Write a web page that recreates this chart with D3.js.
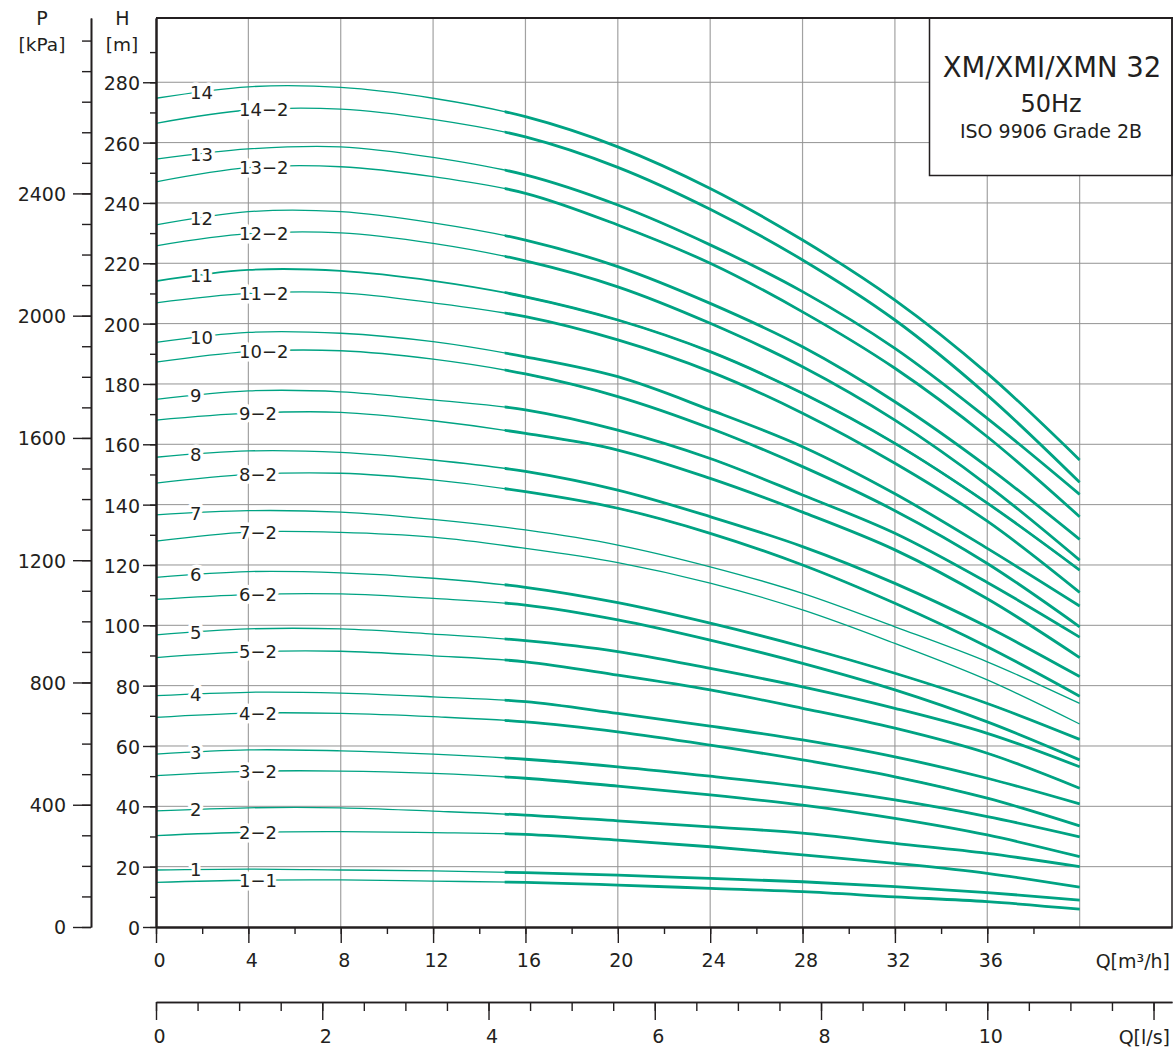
<!DOCTYPE html>
<html>
<head>
<meta charset="utf-8">
<script src="https://cdn.jsdelivr.net/npm/d3@7"></script>
<style>
  body { margin: 0; background: #fff; }
  svg text { font-family: "DejaVu Sans", sans-serif; fill: #231f20; }
</style>
</head>
<body>
<script>
var width = 1173;
var height = 1050;

// flow values the curves were read at [m3/h]
var flowQ = [0, 4, 8, 12, 16, 20, 24, 28, 32, 36, 40];

// curve labels, top to bottom
var curveNames = ["14", "14−2", "13", "13−2", "12", "12−2", "11", "11−2", "10", "10−2",
  "9", "9−2", "8", "8−2", "7", "7−2", "6", "6−2", "5", "5−2", "4", "4−2",
  "3", "3−2", "2", "2−2", "1", "1−1"];

// head H [m] of each curve at flowQ
var h14  = [274.7, 278.5, 278.3, 274.7, 268.6, 258.6, 244.8, 227.7, 207.8, 183.5, 154.8];
var h14b = [266.4, 270.8, 271.1, 267.7, 261.9, 251.8, 237.9, 221.1, 201.2, 176.3, 147.4];
var h13  = [254.5, 257.9, 258.6, 255.1, 249.3, 239.3, 226.1, 210.6, 191.8, 168.6, 143.4];
var h13b = [247.0, 251.7, 252.0, 248.7, 243.2, 232.7, 220.0, 203.9, 185.2, 162.5, 136.0];
var h12  = [232.7, 237.1, 237.1, 233.4, 227.7, 218.9, 206.7, 192.3, 174.1, 152.6, 128.5];
var h12b = [225.8, 229.8, 230.1, 226.6, 220.8, 212.2, 200.1, 185.7, 168.0, 146.5, 121.6];
var h11  = [214.1, 217.8, 217.5, 214.2, 208.9, 201.2, 190.7, 176.9, 160.3, 140.5, 118.3];
var h11b = [206.9, 210.0, 210.2, 206.9, 202.3, 194.6, 184.1, 170.3, 153.7, 134.5, 110.9];
var h10  = [193.8, 197.1, 196.8, 194.0, 189.0, 182.4, 171.4, 159.2, 143.6, 125.5, 106.4];
var h10b = [187.2, 190.7, 191.0, 188.2, 183.3, 175.8, 165.3, 152.6, 138.0, 120.5, 99.5];
var h9   = [174.9, 177.7, 177.4, 174.7, 171.4, 164.7, 155.3, 143.2, 130.5, 114.2, 96.1];
var h9b  = [168.0, 170.3, 170.6, 167.8, 163.6, 158.1, 148.7, 137.5, 125.0, 108.8, 89.3];
var h8   = [155.7, 157.8, 157.3, 154.8, 151.0, 144.8, 136.0, 126.1, 113.9, 99.5, 83.0];
var h8b  = [147.1, 150.0, 150.4, 148.2, 144.3, 138.8, 130.5, 120.0, 107.3, 92.9, 76.5];
var h7   = [136.6, 138.0, 137.5, 135.1, 131.6, 126.6, 119.4, 110.6, 99.5, 87.9, 74.1];
var h7b  = [127.9, 130.9, 130.8, 129.2, 125.5, 120.8, 114.0, 105.1, 94.0, 81.9, 67.3];
var h6   = [115.9, 117.8, 117.4, 115.6, 112.6, 107.5, 100.7, 92.9, 84.1, 74.1, 62.2];
var h6b  = [108.6, 110.2, 110.4, 108.9, 106.7, 101.8, 95.1, 87.4, 78.6, 68.0, 55.4];
var h5   = [96.8, 98.8, 98.8, 97.1, 94.9, 91.3, 85.7, 79.6, 72.5, 64.2, 53.1];
var h5b  = [89.3, 91.2, 91.4, 89.9, 87.9, 83.5, 78.6, 72.5, 65.9, 57.6, 46.0];
var h4   = [76.7, 77.8, 77.5, 76.3, 74.7, 70.8, 66.6, 62.0, 56.4, 49.3, 40.8];
var h4b  = [69.5, 70.9, 70.8, 69.7, 68.0, 64.7, 60.3, 55.4, 49.8, 42.7, 33.5];
var h3   = [57.3, 58.7, 58.4, 57.3, 55.6, 53.1, 50.0, 46.5, 42.1, 36.6, 29.9];
var h3b  = [50.2, 51.6, 51.7, 50.9, 49.3, 46.7, 43.8, 40.4, 36.0, 30.5, 23.3];
var h2   = [38.5, 39.5, 39.5, 38.4, 37.1, 35.2, 33.2, 31.1, 27.7, 24.4, 20.0];
var h2b  = [30.3, 31.4, 31.6, 31.3, 30.7, 28.8, 26.6, 23.9, 21.1, 17.8, 13.2];
var h1   = [18.9, 19.2, 18.9, 18.6, 18.0, 17.2, 16.1, 15.0, 13.4, 11.4, 8.9];
var h1b  = [14.8, 15.5, 15.6, 15.2, 14.8, 13.9, 12.8, 11.7, 10.0, 8.4, 5.9];

var curveHeads = [h14, h14b, h13, h13b, h12, h12b, h11, h11b, h10, h10b, h9, h9b,
  h8, h8b, h7, h7b, h6, h6b, h5, h5b, h4, h4b, h3, h3b, h2, h2b, h1, h1b];

// curves drawn thin over the whole range
var thinCurves = ["7", "7−2"];

// axis ticks
var qTicks = [0, 4, 8, 12, 16, 20, 24, 28, 32, 36];
var qMinorTicks = d3.range(0, 40, 2);
var lsTicks = [0, 2, 4, 6, 8, 10, 12];
var lsMinorTicks = d3.range(0, 12.5, 0.5);
var hTicks = d3.range(0, 281, 20);
var hMinorTicks = d3.range(0, 300, 10);
var pTicks = [0, 400, 800, 1200, 1600, 2000, 2400];
var pMinorTicks = d3.range(0, 3000, 100);

var kPaPerMetre = 9.87;
var thickFromQ = 15.1;
var green = "#00a383";
var ink = "#231f20";

var svg = d3.select("body").append("svg")
  .attr("width", width)
  .attr("height", height);

var plotLeft = 156, plotRight = 1172, plotTop = 18, plotBottom = 927;
var hMax = 301.3;

var x = d3.scaleLinear().domain([0, 44]).range([plotLeft, plotRight]);
var y = d3.scaleLinear().domain([0, hMax]).range([plotBottom, plotTop]);
var yP = d3.scaleLinear().domain([0, hMax * kPaPerMetre]).range([plotBottom, plotTop]);
var xLs = d3.scaleLinear().domain([0, 44 / 3.6]).range([plotLeft, plotRight]);

// grid
var grid = svg.append("g").attr("stroke", "#a2a2a2").attr("stroke-width", 1.2);
grid.selectAll("line.v")
  .data(d3.range(4, 41, 4))
  .join("line")
  .attr("x1", d => x(d)).attr("x2", d => x(d))
  .attr("y1", plotTop).attr("y2", plotBottom);
grid.selectAll("line.h")
  .data(d3.range(20, 281, 20))
  .join("line")
  .attr("x1", plotLeft).attr("x2", plotRight)
  .attr("y1", d => y(d)).attr("y2", d => y(d))
  .attr("stroke", "#939393").attr("stroke-width", 1);

// curves
var curves = curveNames.map(function (name, i) {
  return { name: name, points: flowQ.map((q, j) => [q, curveHeads[i][j]]) };
});

svg.append("clipPath").attr("id", "thickPart")
  .append("rect")
  .attr("x", x(thickFromQ)).attr("y", 0)
  .attr("width", plotRight - x(thickFromQ)).attr("height", height);

var line = d3.line()
  .x(d => x(d[0]))
  .y(d => y(d[1]))
  .curve(d3.curveCatmullRom.alpha(0.5));

var curveGroup = svg.append("g").attr("fill", "none").attr("stroke", green);
curveGroup.selectAll("path.thin")
  .data(curves)
  .join("path")
  .attr("d", d => line(d.points))
  .attr("stroke-width", d => d.name === "11" ? 1.8 : 1.3);
curveGroup.selectAll("path.thick")
  .data(curves.filter(d => thinCurves.indexOf(d.name) < 0))
  .join("path")
  .attr("d", d => line(d.points))
  .attr("stroke-width", 2.8)
  .attr("clip-path", "url(#thickPart)");

// curve labels with a white knock-out halo
var labelGroup = svg.append("g");
curves.forEach(function (c) {
  var sub = c.name.indexOf("−") >= 0;
  var t = labelGroup.append("text")
    .attr("x", sub ? 239 : 190)
    .attr("font-size", 18)
    .attr("stroke", "#fff")
    .attr("stroke-width", 7)
    .attr("stroke-linejoin", "round")
    .style("paint-order", "stroke")
    .text(c.name);
  var w = t.node().getComputedTextLength();
  var qc = x.invert((sub ? 239 : 190) + w / 2);
  var hAt = d3.scaleLinear().domain(flowQ).range(c.points.map(p => p[1]));
  t.attr("y", y(hAt(qc)) + 6.5);
});

// title box
var box = svg.append("g");
box.append("rect")
  .attr("x", 929.5).attr("y", plotTop)
  .attr("width", plotRight - 929.5).attr("height", 157.5)
  .attr("fill", "#fff").attr("stroke", ink).attr("stroke-width", 1.5);
box.append("text").attr("x", 1052).attr("y", 77).attr("text-anchor", "middle")
  .attr("font-size", 27.5).text("XM/XMI/XMN 32");
box.append("text").attr("x", 1051).attr("y", 112).attr("text-anchor", "middle")
  .attr("font-size", 24).text("50Hz");
box.append("text").attr("x", 1051).attr("y", 138).attr("text-anchor", "middle")
  .attr("font-size", 19).text("ISO 9906 Grade 2B");

// frame: top and right
svg.append("line").attr("x1", plotLeft).attr("x2", plotRight + 1)
  .attr("y1", plotTop).attr("y2", plotTop)
  .attr("stroke", ink).attr("stroke-width", 2);
svg.append("line").attr("x1", plotRight).attr("x2", plotRight)
  .attr("y1", plotTop).attr("y2", plotBottom)
  .attr("stroke", ink).attr("stroke-width", 1.5);

function styleAxis(g, lineWidth) {
  g.attr("font-size", 19).attr("font-family", "DejaVu Sans").attr("color", ink);
  g.select(".domain").attr("stroke-width", lineWidth);
  g.selectAll(".tick line").attr("stroke-width", 1.4);
}

// H axis
svg.append("g")
  .attr("transform", "translate(" + plotLeft + ",0)")
  .call(d3.axisLeft(y).tickValues(hMinorTicks).tickSize(6).tickSizeOuter(0).tickFormat(""))
  .call(styleAxis, 2);
svg.append("g")
  .attr("transform", "translate(" + plotLeft + ",0)")
  .call(d3.axisLeft(y).tickValues(hTicks).tickSize(13).tickPadding(3).tickSizeOuter(0))
  .call(styleAxis, 2)
  .selectAll(".tick text").attr("dy", "0.4em");

// P axis
svg.append("g")
  .attr("transform", "translate(91,0)")
  .call(d3.axisLeft(yP).tickValues(pMinorTicks).tickSize(9).tickSizeOuter(0).tickFormat(""))
  .call(styleAxis, 1.6);
svg.append("g")
  .attr("transform", "translate(91,0)")
  .call(d3.axisLeft(yP).tickValues(pTicks).tickSize(18).tickPadding(7).tickSizeOuter(0)
    .tickFormat(d3.format("d")))
  .call(styleAxis, 1.6)
  .selectAll(".tick text").attr("dy", "0.36em");

// Q [m3/h] axis
svg.append("g")
  .attr("transform", "translate(0," + plotBottom + ")")
  .call(d3.axisBottom(x).tickValues(qMinorTicks).tickSize(7).tickSizeOuter(0).tickFormat(""))
  .call(styleAxis, 2);
svg.append("g")
  .attr("transform", "translate(0," + plotBottom + ")")
  .call(d3.axisBottom(x).tickValues(qTicks).tickSize(16).tickPadding(11).tickSizeOuter(0))
  .call(styleAxis, 2)
  .selectAll(".tick text").attr("dx", 3);

// Q [l/s] axis
svg.append("g")
  .attr("transform", "translate(0,1002)")
  .call(d3.axisBottom(xLs).tickValues(lsMinorTicks).tickSize(9).tickSizeOuter(0).tickFormat(""))
  .call(styleAxis, 1.6);
svg.append("g")
  .attr("transform", "translate(0,1002)")
  .call(d3.axisBottom(xLs).tickValues(lsTicks).tickSize(18).tickPadding(10).tickSizeOuter(0)
    .tickFormat(d => d === 12 ? "" : d))
  .call(styleAxis, 1.6)
  .selectAll(".tick text").attr("dx", 3);

// axis titles
svg.append("text").attr("x", 42).attr("y", 25).attr("text-anchor", "middle")
  .attr("font-size", 19).text("P");
svg.append("text").attr("x", 42).attr("y", 51).attr("text-anchor", "middle")
  .attr("font-size", 18.5).text("[kPa]");
svg.append("text").attr("x", 122.5).attr("y", 25).attr("text-anchor", "middle")
  .attr("font-size", 19).text("H");
svg.append("text").attr("x", 122).attr("y", 51).attr("text-anchor", "middle")
  .attr("font-size", 18.5).text("[m]");
svg.append("text").attr("x", 1170).attr("y", 968).attr("text-anchor", "end")
  .attr("font-size", 19).text("Q[m³/h]");
svg.append("text").attr("x", 1170).attr("y", 1044).attr("text-anchor", "end")
  .attr("font-size", 19).text("Q[l/s]");
</script>
</body>
</html>
